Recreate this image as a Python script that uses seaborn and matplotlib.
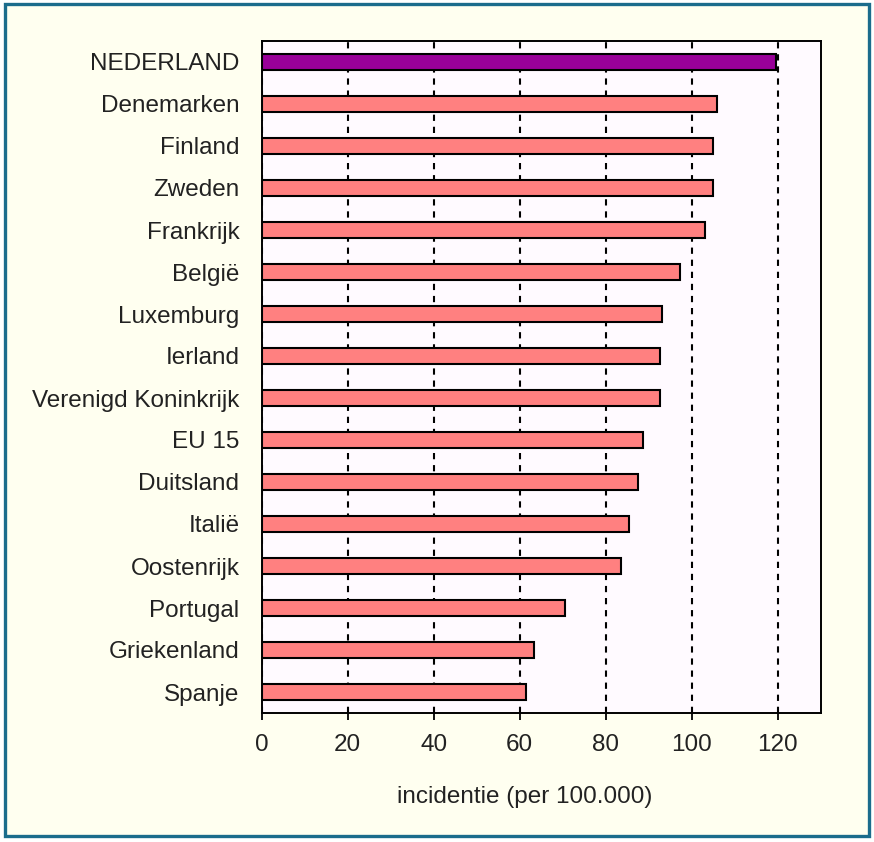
import matplotlib
matplotlib.use('Agg')
import matplotlib.pyplot as plt
from matplotlib.patches import Rectangle
import seaborn as sns
import pandas as pd

countries = ['NEDERLAND', 'Denemarken', 'Finland', 'Zweden', 'Frankrijk', 'België',
             'Luxemburg', 'Ierland', 'Verenigd Koninkrijk', 'EU 15', 'Duitsland',
             'Italië', 'Oostenrijk', 'Portugal', 'Griekenland', 'Spanje']
incidence = [119.6, 105.8, 104.9, 104.9, 103.0, 97.3, 93.1, 92.6, 92.6, 88.7, 87.4,
             85.5, 83.6, 70.5, 63.3, 61.4]
highlight = 'NEDERLAND'
xticks = [0, 20, 40, 60, 80, 100, 120]

df = pd.DataFrame({'land': countries, 'incidentie': incidence})
colors = {c: ('#990099' if c == highlight else '#FF8080') for c in countries}

sns.set_style('white')
plt.rcParams['font.family'] = ['Liberation Sans', 'DejaVu Sans']
fs = 17.5

fig = plt.figure(figsize=(8.74, 8.42), dpi=100)
fig.patch.set_facecolor('white')
# cream panel with teal frame
fig.add_artist(Rectangle((5 / 874, 1 - 836 / 842), 864 / 874, 832 / 842,
                         transform=fig.transFigure, facecolor='#FFFFF0',
                         edgecolor='#1B6C8C', lw=2.4, zorder=-10))

ax = fig.add_axes([261.7 / 874, 1 - 713 / 842, 559 / 874, 672 / 842])
ax.set_facecolor('#FFFAFF')

sns.barplot(data=df, x='incidentie', y='land', hue='land', palette=colors,
            legend=False, width=0.38, edgecolor='black', linewidth=1.5,
            saturation=1, orient='h', ax=ax)

ax.set_xlim(0, 130)
ax.set_ylim(15.5, -0.5)
ax.set_xticks(xticks)
ax.xaxis.grid(True, color='black', linestyle=(0, (3, 2.8)), lw=1.5)
ax.yaxis.grid(False)
ax.set_axisbelow(True)

for s in ax.spines.values():
    s.set_visible(True)
    s.set_color('black')
    s.set_linewidth(1.4)

ax.tick_params(axis='x', direction='out', length=5, width=1.3, pad=10,
               labelsize=fs, colors='black', bottom=True)
ax.tick_params(axis='y', length=0, pad=16, labelsize=fs, colors='black')
for t in ax.get_xticklabels() + ax.get_yticklabels():
    t.set_color('#222222')

ax.set_ylabel('')
ax.set_xlabel('incidentie (per 100.000)', fontsize=fs, color='#222222')
ax.xaxis.set_label_coords(0.47, -0.125)
ax.xaxis.label.set_va('center')

fig.savefig('out.png', dpi=100)
